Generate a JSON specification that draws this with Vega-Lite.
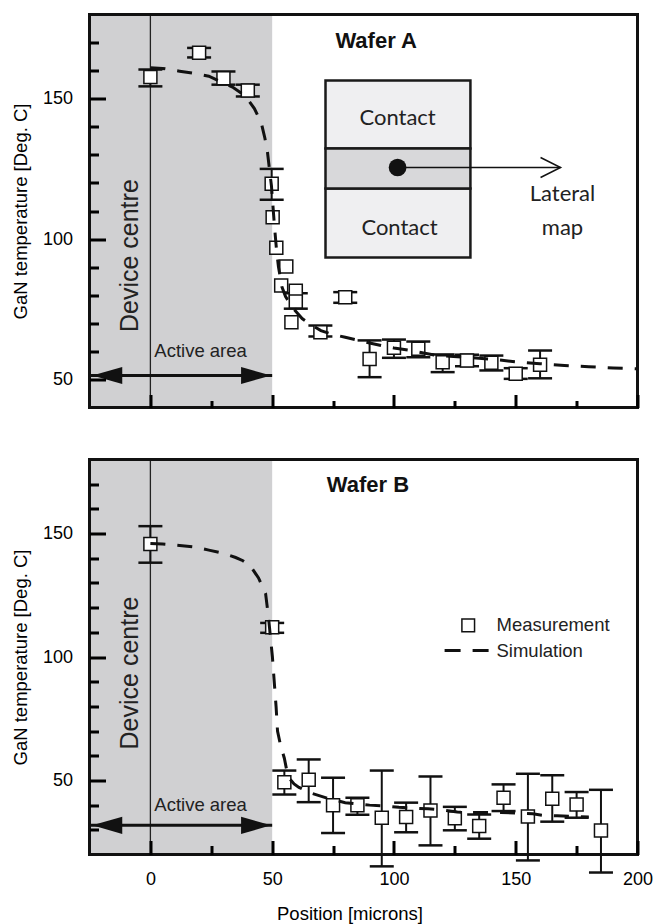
{
  "$schema": "https://vega.github.io/schema/vega-lite/v6.json",
  "background": "white",
  "padding": {"left": 10.5, "top": 12.5, "right": 0, "bottom": 0},
  "spacing": 52,
  "bounds": "flush",
  "config": {
    "view": {"stroke": null},
    "axis": {
      "domain": false, "grid": false, "tickColor": "black", "tickWidth": 3,
      "labelFont": "Liberation Sans", "labelFontSize": 18, "labelColor": "black",
      "titleFont": "Liberation Sans", "titleFontSize": 18.5, "titleFontWeight": "normal", "titleColor": "black",
      "labelOverlap": false, "labelFlush": false
    }
  },
  "datasets": {
    "measA": [
      {"x": 0, "y": 157.7}, {"x": 20, "y": 166.4}, {"x": 30, "y": 157.3}, {"x": 40, "y": 152.9},
      {"x": 49.8, "y": 119.7}, {"x": 50.2, "y": 107.8}, {"x": 51.7, "y": 96.9}, {"x": 55.8, "y": 90.2},
      {"x": 53.7, "y": 83.5}, {"x": 59.7, "y": 81.6}, {"x": 59.7, "y": 77.8}, {"x": 57.9, "y": 70.4},
      {"x": 69.8, "y": 66.8}, {"x": 80, "y": 79.3}, {"x": 90, "y": 57.3}, {"x": 100, "y": 61.3},
      {"x": 110, "y": 60.9}, {"x": 120, "y": 56.1}, {"x": 130, "y": 56.7}, {"x": 140, "y": 55.9},
      {"x": 150, "y": 52}, {"x": 160, "y": 55.2}
    ],
    "errA": [
      {"x": 0, "y": 154.4, "y2": 160.4}, {"x": 20, "y": 164.7, "y2": 168.1}, {"x": 30, "y": 155, "y2": 159.7},
      {"x": 40, "y": 150.8, "y2": 155}, {"x": 49.8, "y": 114, "y2": 125}, {"x": 59.7, "y": 75.2, "y2": 80.7},
      {"x": 69.8, "y": 65.3, "y2": 69.2}, {"x": 80, "y": 77.3, "y2": 81.1}, {"x": 90, "y": 50.8, "y2": 63.9},
      {"x": 100, "y": 57.7, "y2": 64.2}, {"x": 110, "y": 57.9, "y2": 63.5}, {"x": 120, "y": 52.6, "y2": 58.9},
      {"x": 130, "y": 54.7, "y2": 58.8}, {"x": 140, "y": 53.2, "y2": 58.5}, {"x": 150, "y": 50.2, "y2": 54},
      {"x": 160, "y": 50.4, "y2": 60.3}
    ],
    "simA": [
      {"x": 0, "y": 161}, {"x": 5, "y": 160.8}, {"x": 12, "y": 159.8}, {"x": 18, "y": 159}, {"x": 24, "y": 158},
      {"x": 29, "y": 156}, {"x": 34, "y": 154}, {"x": 39, "y": 151}, {"x": 42.7, "y": 146.5}, {"x": 45.5, "y": 141.5},
      {"x": 47, "y": 136}, {"x": 48, "y": 131.5}, {"x": 49, "y": 124}, {"x": 49.7, "y": 119}, {"x": 50.3, "y": 112},
      {"x": 51, "y": 104}, {"x": 51.8, "y": 96}, {"x": 52.6, "y": 90}, {"x": 54, "y": 83}, {"x": 55.5, "y": 79.5},
      {"x": 58.6, "y": 75.3}, {"x": 62.3, "y": 71.7}, {"x": 66, "y": 69.5}, {"x": 70, "y": 67.4}, {"x": 75, "y": 66},
      {"x": 80, "y": 65}, {"x": 85, "y": 64}, {"x": 90, "y": 63}, {"x": 95, "y": 62}, {"x": 100, "y": 61.2},
      {"x": 107, "y": 60.3}, {"x": 117, "y": 58.6}, {"x": 128, "y": 58}, {"x": 140, "y": 57.2}, {"x": 150, "y": 56.3},
      {"x": 160, "y": 55.6}, {"x": 170, "y": 55}, {"x": 180, "y": 54.5}, {"x": 190, "y": 54.1}, {"x": 200, "y": 53.8}
    ],
    "measB": [
      {"x": 0, "y": 145.8}, {"x": 50, "y": 112.1}, {"x": 55, "y": 49.3}, {"x": 65, "y": 50.3}, {"x": 75, "y": 39.9},
      {"x": 85, "y": 39.9}, {"x": 95, "y": 34.9}, {"x": 105, "y": 35.2}, {"x": 115, "y": 37.8}, {"x": 125, "y": 34.7},
      {"x": 135, "y": 31.5}, {"x": 145, "y": 43}, {"x": 155, "y": 35.4}, {"x": 165, "y": 42.6}, {"x": 175, "y": 40.3},
      {"x": 185, "y": 29.7}
    ],
    "errB": [
      {"x": 0, "y": 138.2, "y2": 153}, {"x": 50, "y": 109.8, "y2": 113.8}, {"x": 55, "y": 44.3, "y2": 54},
      {"x": 65, "y": 41.2, "y2": 58.5}, {"x": 75, "y": 28.7, "y2": 51.1}, {"x": 85, "y": 36.1, "y2": 43},
      {"x": 95, "y": 15.2, "y2": 54}, {"x": 105, "y": 29, "y2": 41}, {"x": 115, "y": 23.7, "y2": 51.6},
      {"x": 125, "y": 29.8, "y2": 39.3}, {"x": 135, "y": 26.4, "y2": 36.2}, {"x": 145, "y": 37.6, "y2": 48.4},
      {"x": 155, "y": 17.6, "y2": 52.7}, {"x": 165, "y": 33.3, "y2": 52.1}, {"x": 175, "y": 34.9, "y2": 45.3},
      {"x": 185, "y": 12.7, "y2": 46.2}
    ],
    "simB": [
      {"x": 0, "y": 146}, {"x": 5, "y": 145.8}, {"x": 12, "y": 145.2}, {"x": 18.5, "y": 144.5}, {"x": 24, "y": 143.3},
      {"x": 30, "y": 142}, {"x": 35, "y": 140.3}, {"x": 38, "y": 139}, {"x": 41, "y": 137}, {"x": 44.4, "y": 132},
      {"x": 47.3, "y": 125.7}, {"x": 48.5, "y": 116}, {"x": 49.3, "y": 108}, {"x": 50.1, "y": 100}, {"x": 51, "y": 88},
      {"x": 51.6, "y": 80}, {"x": 52.2, "y": 70}, {"x": 53.5, "y": 64}, {"x": 55, "y": 59}, {"x": 56.5, "y": 51.5},
      {"x": 59, "y": 48.6}, {"x": 61, "y": 47.2}, {"x": 66.5, "y": 44.7}, {"x": 73, "y": 42.7}, {"x": 80, "y": 41},
      {"x": 90, "y": 40}, {"x": 96, "y": 39.7}, {"x": 102, "y": 39.1}, {"x": 108, "y": 38.8}, {"x": 114, "y": 38.5},
      {"x": 120, "y": 38}, {"x": 126, "y": 37.2}, {"x": 132, "y": 37}, {"x": 138, "y": 37}, {"x": 144, "y": 37},
      {"x": 150, "y": 36.8}, {"x": 157, "y": 36.5}, {"x": 161, "y": 35.9}, {"x": 167, "y": 35.7}, {"x": 172, "y": 35.5},
      {"x": 180, "y": 35.2}
    ]
  },
  "vconcat": [
    {
      "width": 548, "height": 393,
      "encoding": {
        "x": {"field": "x", "type": "quantitative", "scale": {"domain": [-25, 200], "nice": false, "zero": false},
          "axis": {"values": [0, 25, 50, 75, 100, 125, 150, 175, 200], "labels": false, "title": null, "zindex": 1,
            "tickSize": {"condition": {"test": "datum.value % 50 === 0", "value": -13}, "value": -7}}},
        "y": {"field": "y", "type": "quantitative", "scale": {"domain": [40, 180], "nice": false, "zero": false},
          "axis": {"values": [50, 60, 70, 80, 90, 100, 110, 120, 130, 140, 150, 160, 170], "zindex": 1,
            "labelExpr": "datum.value % 50 === 0 ? datum.label : ''",
            "tickSize": {"condition": {"test": "datum.value % 50 === 0", "value": -16}, "value": -9},
            "labelPadding": 33, "title": "GaN temperature [Deg. C]", "titlePadding": 12}}
      },
      "layer": [
        {"data": {"values": [{"x": -25, "x2": 50, "y": 40, "y2": 180}]}, "mark": {"type": "rect", "color": "#d0d0d2"},
          "encoding": {"x2": {"field": "x2"}, "y2": {"field": "y2"}}},
        {"data": {"values": [{"x": 0, "y": 40, "y2": 180}]}, "mark": {"type": "rule", "color": "#222", "strokeWidth": 1.3},
          "encoding": {"y2": {"field": "y2"}}},
        {"data": {"values": [{"x": 71.9, "x2": 131.4, "y": 132.3, "y2": 156.5}, {"x": 71.9, "x2": 131.4, "y": 93.4, "y2": 118}]},
          "mark": {"type": "rect", "fill": "#efeff1", "stroke": "#1a1a1a", "strokeWidth": 2.5},
          "encoding": {"x2": {"field": "x2"}, "y2": {"field": "y2"}}},
        {"data": {"values": [{"x": 71.9, "x2": 131.4, "y": 118, "y2": 132.3}]},
          "mark": {"type": "rect", "fill": "#d8d8da", "stroke": "#1a1a1a", "strokeWidth": 2.5},
          "encoding": {"x2": {"field": "x2"}, "y2": {"field": "y2"}}},
        {"data": {"values": [{"x": 101.5, "x2": 168.4, "y": 125.5}]}, "mark": {"type": "rule", "color": "#111", "strokeWidth": 1.5},
          "encoding": {"x2": {"field": "x2"}}},
        {"data": {"values": [{"x": 101.5, "y": 125.5}]}, "mark": {"type": "point", "shape": "circle", "size": 314, "filled": true, "color": "#111", "opacity": 1},
          "encoding": {}},
        {"data": {"values": [{"x": 164.3, "y": 125.5}]}, "mark": {"type": "point", "shape": "M -1 -1 L 1 0 L -1 1", "size": 400, "filled": false, "stroke": "#111", "strokeWidth": 1.5, "opacity": 1},
          "encoding": {}},
        {"data": {"values": [{"x": 101.5, "y": 143, "label": "Contact"}, {"x": 102.3, "y": 104.1, "label": "Contact"}, {"x": 169.2, "y": 116.2, "label": "Lateral"}, {"x": 169.2, "y": 103.8, "label": "map"}]},
          "mark": {"type": "text", "font": "Lato", "fontSize": 22, "color": "#222", "align": "center", "baseline": "middle"},
          "encoding": {"text": {"field": "label"}}},
        {"data": {"values": [{"x": -8.2, "y": 94.1, "label": "Device centre"}]},
          "mark": {"type": "text", "font": "Liberation Sans", "fontSize": 25, "angle": 270, "color": "#222", "align": "center", "baseline": "middle"},
          "encoding": {"text": {"field": "label"}}},
        {"data": {"values": [{"x": 20.6, "y": 60, "label": "Active area"}]},
          "mark": {"type": "text", "font": "Liberation Sans", "fontSize": 18.5, "color": "#222", "align": "center", "baseline": "middle"},
          "encoding": {"text": {"field": "label"}}},
        {"data": {"values": [{"x": -25, "x2": 50, "y": 51.4}]}, "mark": {"type": "rule", "color": "#111", "strokeWidth": 3},
          "encoding": {"x2": {"field": "x2"}}},
        {"data": {"values": [{"x": -17.7, "y": 51.4}]}, "mark": {"type": "point", "shape": "M -1 0 L 1 -0.57 L 1 0.57 Z", "size": 900, "filled": true, "color": "#111", "opacity": 1},
          "encoding": {}},
        {"data": {"values": [{"x": 43.4, "y": 51.4}]}, "mark": {"type": "point", "shape": "M 1 0 L -1 -0.57 L -1 0.57 Z", "size": 900, "filled": true, "color": "#111", "opacity": 1},
          "encoding": {}},
        {"data": {"name": "errA"}, "mark": {"type": "rule", "color": "#111", "strokeWidth": 2},
          "encoding": {"y2": {"field": "y2"}}},
        {"data": {"name": "errA"}, "transform": [{"fold": ["y", "y2"], "as": ["end", "y"]}],
          "mark": {"type": "tick", "orient": "horizontal", "size": 24, "thickness": 2.5, "color": "#111", "opacity": 1},
          "encoding": {}},
        {"data": {"name": "measA"}, "mark": {"type": "point", "shape": "square", "size": 169, "filled": true, "fill": "white", "stroke": "#111", "strokeWidth": 1.5, "opacity": 1},
          "encoding": {}},
        {"data": {"name": "simA"}, "mark": {"type": "line", "color": "#111", "strokeWidth": 3, "strokeDash": [15, 12]},
          "encoding": {}},
        {"data": {"values": [{"x": 92.7, "y": 170.7, "label": "Wafer A"}]},
          "mark": {"type": "text", "font": "Liberation Sans", "fontSize": 22, "fontWeight": "bold", "color": "#111", "align": "center", "baseline": "middle"},
          "encoding": {"text": {"field": "label"}}},
        {"data": {"values": [{"x": -25, "x2": 200, "y": 40, "y2": 180}]}, "mark": {"type": "rect", "fill": "white", "fillOpacity": 0, "stroke": "#111", "strokeWidth": 3},
          "encoding": {"x2": {"field": "x2"}, "y2": {"field": "y2"}}}
      ]
    },
    {
      "width": 548, "height": 395,
      "encoding": {
        "x": {"field": "x", "type": "quantitative", "scale": {"domain": [-25, 200], "nice": false, "zero": false},
          "axis": {"values": [0, 25, 50, 75, 100, 125, 150, 175, 200], "zindex": 1,
            "labelExpr": "datum.value % 50 === 0 ? datum.label : ''",
            "tickSize": {"condition": {"test": "datum.value % 50 === 0", "value": -14}, "value": -9},
            "labelPadding": 30, "title": "Position [microns]", "titlePadding": 11, "titleX": 260}},
        "y": {"field": "y", "type": "quantitative", "scale": {"domain": [20, 180], "nice": false, "zero": false},
          "axis": {"values": [30, 40, 50, 60, 70, 80, 90, 100, 110, 120, 130, 140, 150, 160, 170], "zindex": 1,
            "labelExpr": "datum.value % 50 === 0 ? datum.label : ''",
            "tickSize": {"condition": {"test": "datum.value % 50 === 0", "value": -16}, "value": -9},
            "labelPadding": 33, "title": "GaN temperature [Deg. C]", "titlePadding": 12}}
      },
      "layer": [
        {"data": {"values": [{"x": -25, "x2": 50, "y": 20, "y2": 180}]}, "mark": {"type": "rect", "color": "#d0d0d2"},
          "encoding": {"x2": {"field": "x2"}, "y2": {"field": "y2"}}},
        {"data": {"values": [{"x": 0, "y": 20, "y2": 180}]}, "mark": {"type": "rule", "color": "#222", "strokeWidth": 1.3},
          "encoding": {"y2": {"field": "y2"}}},
        {"data": {"values": [{"x": -8.2, "y": 93.5, "label": "Device centre"}]},
          "mark": {"type": "text", "font": "Liberation Sans", "fontSize": 25, "angle": 270, "color": "#222", "align": "center", "baseline": "middle"},
          "encoding": {"text": {"field": "label"}}},
        {"data": {"values": [{"x": 20.6, "y": 39.9, "label": "Active area"}]},
          "mark": {"type": "text", "font": "Liberation Sans", "fontSize": 18.5, "color": "#222", "align": "center", "baseline": "middle"},
          "encoding": {"text": {"field": "label"}}},
        {"data": {"values": [{"x": -25, "x2": 50, "y": 31.8}]}, "mark": {"type": "rule", "color": "#111", "strokeWidth": 3},
          "encoding": {"x2": {"field": "x2"}}},
        {"data": {"values": [{"x": -17.7, "y": 31.8}]}, "mark": {"type": "point", "shape": "M -1 0 L 1 -0.57 L 1 0.57 Z", "size": 900, "filled": true, "color": "#111", "opacity": 1},
          "encoding": {}},
        {"data": {"values": [{"x": 43.4, "y": 31.8}]}, "mark": {"type": "point", "shape": "M 1 0 L -1 -0.57 L -1 0.57 Z", "size": 900, "filled": true, "color": "#111", "opacity": 1},
          "encoding": {}},
        {"data": {"name": "errB"}, "mark": {"type": "rule", "color": "#111", "strokeWidth": 2},
          "encoding": {"y2": {"field": "y2"}}},
        {"data": {"name": "errB"}, "transform": [{"fold": ["y", "y2"], "as": ["end", "y"]}],
          "mark": {"type": "tick", "orient": "horizontal", "size": 24, "thickness": 2.5, "color": "#111", "opacity": 1},
          "encoding": {}},
        {"data": {"name": "measB"}, "mark": {"type": "point", "shape": "square", "size": 169, "filled": true, "fill": "white", "stroke": "#111", "strokeWidth": 1.5, "opacity": 1},
          "encoding": {}},
        {"data": {"name": "simB"}, "mark": {"type": "line", "color": "#111", "strokeWidth": 3, "strokeDash": [15, 12]},
          "encoding": {}},
        {"data": {"values": [{"x": 89.3, "y": 169.5, "label": "Wafer B"}]},
          "mark": {"type": "text", "font": "Liberation Sans", "fontSize": 22, "fontWeight": "bold", "color": "#111", "align": "center", "baseline": "middle"},
          "encoding": {"text": {"field": "label"}}},
        {"data": {"values": [{"x": 130.5, "y": 112.8}]}, "mark": {"type": "point", "shape": "square", "size": 160, "filled": true, "fill": "white", "stroke": "#111", "strokeWidth": 1.5, "opacity": 1},
          "encoding": {}},
        {"data": {"values": [{"x": 120.8, "y": 102.6}, {"x": 139.2, "y": 102.6}]}, "mark": {"type": "line", "color": "#111", "strokeWidth": 3, "strokeDash": [16, 12]},
          "encoding": {}},
        {"data": {"values": [{"x": 142.1, "y": 112.8, "label": "Measurement"}, {"x": 142.1, "y": 102.4, "label": "Simulation"}]},
          "mark": {"type": "text", "font": "Liberation Sans", "fontSize": 18.5, "color": "#222", "align": "left", "baseline": "middle"},
          "encoding": {"text": {"field": "label"}}},
        {"data": {"values": [{"x": -25, "x2": 200, "y": 20, "y2": 180}]}, "mark": {"type": "rect", "fill": "white", "fillOpacity": 0, "stroke": "#111", "strokeWidth": 3},
          "encoding": {"x2": {"field": "x2"}, "y2": {"field": "y2"}}}
      ]
    }
  ]
}
